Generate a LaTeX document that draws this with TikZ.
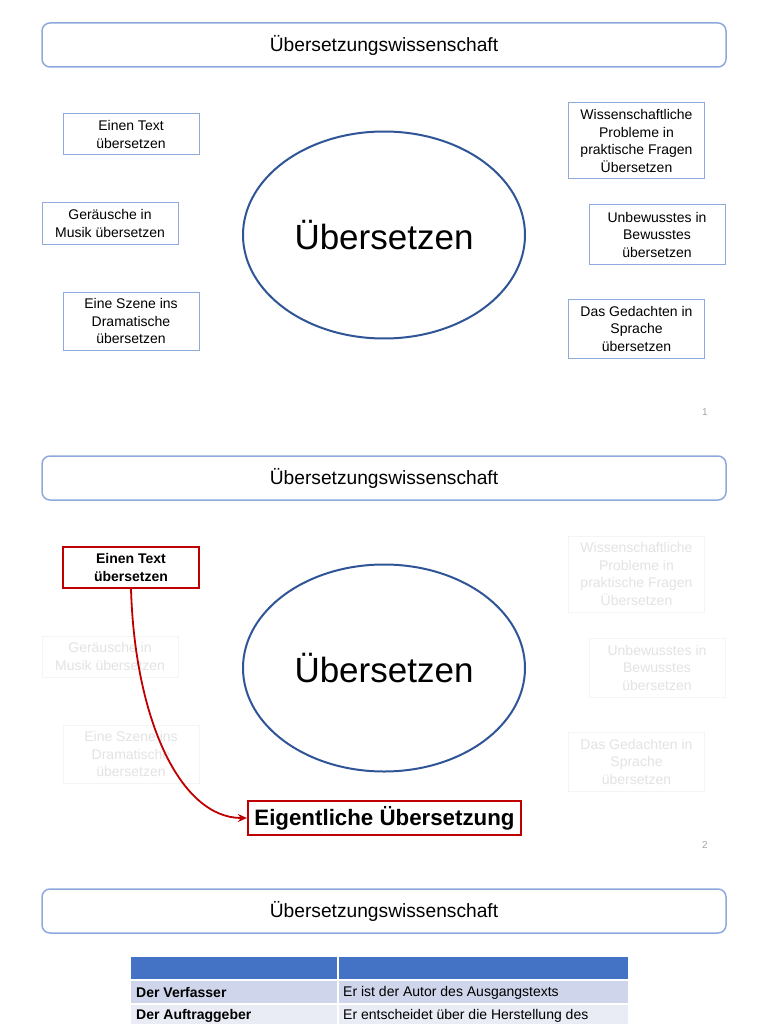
\documentclass[tikz,border=0pt]{standalone}
\usepackage{fontspec}
\setmainfont{Liberation Sans}
\usetikzlibrary{arrows.meta,shapes.geometric}
\definecolor{titleblue}{HTML}{8EA9DB}
\definecolor{boxblue}{HTML}{8FAADC}
\definecolor{ringblue}{HTML}{2F5597}
\definecolor{hotred}{HTML}{C00000}
\definecolor{headblue}{HTML}{4472C4}
\definecolor{rowone}{HTML}{CFD5EA}
\definecolor{rowtwo}{HTML}{E9EBF5}

\begin{document}
\begin{tikzpicture}[x=1pt, y=-1pt,
    titlebox/.style={draw=titleblue, line width=1.5pt, rounded corners=8pt,
        minimum width=684pt, minimum height=44pt, inner sep=0pt,
        font=\fontsize{19.2}{21}\selectfont},
    ideabox/.style={draw=boxblue, line width=1pt, align=center, inner sep=0pt,
        minimum width=136pt, font=\fontsize{14}{17.5}\selectfont},
    faded/.style={ideabox, draw=gray!9, text=gray!22},
    hotbox/.style={draw=hotred, line width=2.2pt, align=center, inner sep=0pt},
    ring/.style={ellipse, draw=ringblue, line width=2pt, minimum width=282pt,
        minimum height=207pt, font=\fontsize{35}{40}\selectfont},
    pageno/.style={text=gray!70, font=\fontsize{10}{12}\selectfont},
    cell/.style={anchor=west, inner sep=0pt, font=\fontsize{14}{16}\selectfont}]

    \useasboundingbox[fill=white] (0,0) rectangle (768,1024);

    % slide 1
    \node[titlebox] (title1) at (384,45) {Übersetzungswissenschaft};
    \node[ring] (ring1) at (384,235) {Übersetzen};
    \node[ideabox, minimum height=41pt] (text1) at (131,134.5) {Einen Text\\übersetzen};
    \node[ideabox, minimum height=41pt] (noise1) at (110,223.5) {Geräusche in\\Musik übersetzen};
    \node[ideabox, minimum height=58pt] (scene1) at (131,321) {Eine Szene ins\\Dramatische\\übersetzen};
    \node[ideabox, minimum height=76pt] (science1) at (636.5,141) {Wissenschaftliche\\Probleme in\\praktische Fragen\\Übersetzen};
    \node[ideabox, minimum height=59pt] (uncon1) at (657,234.5) {Unbewusstes in\\Bewusstes\\übersetzen};
    \node[ideabox, minimum height=59pt] (thought1) at (636.5,328.5) {Das Gedachten in\\Sprache\\übersetzen};
    \node[pageno] (num1) at (705,412) {1};

    % slide 2
    \node[titlebox] (title2) at (384,478) {Übersetzungswissenschaft};
    \node[ring] (ring2) at (384,668) {Übersetzen};
    \node[faded, minimum height=41pt] (noise2) at (110,656.5) {Geräusche in\\Musik übersetzen};
    \node[faded, minimum height=58pt] (scene2) at (131,754) {Eine Szene ins\\Dramatische\\übersetzen};
    \node[faded, minimum height=76pt] (science2) at (636.5,574) {Wissenschaftliche\\Probleme in\\praktische Fragen\\Übersetzen};
    \node[faded, minimum height=59pt] (uncon2) at (657,667.5) {Unbewusstes in\\Bewusstes\\übersetzen};
    \node[faded, minimum height=59pt] (thought2) at (636.5,761.5) {Das Gedachten in\\Sprache\\übersetzen};
    \node[hotbox, minimum width=136pt, minimum height=41pt,
        font=\bfseries\fontsize{14}{17.5}\selectfont] (text2) at (131,567.5) {Einen Text\\übersetzen};
    \node[hotbox, minimum width=273pt, minimum height=34pt,
        font=\bfseries\fontsize{22.3}{24}\selectfont] (proper) at (384.5,818) {Eigentliche Übersetzung};
    \draw[hotred, line width=1.8pt, -{Stealth[length=9pt,width=8pt]}]
        (text2.south) .. controls +(4,132) and +(-66,0) .. (proper.west);
    \node[pageno] (num2) at (705,845) {2};

    % slide 3
    \node[titlebox] (title3) at (384,911) {Übersetzungswissenschaft};
    \fill[headblue] (131,957) rectangle (628,979);
    \fill[rowone] (131,981) rectangle (628,1003);
    \fill[rowtwo] (131,1005) rectangle (628,1024);
    \draw[white, line width=1.5pt] (338,957) -- (338,1024);
    \node[cell, font=\bfseries\fontsize{14}{16}\selectfont] (authorA) at (136,992.5) {Der Verfasser};
    \node[cell] (authorB) at (343,992.5) {Er ist der Autor des Ausgangstexts};
    \node[cell, font=\bfseries\fontsize{14}{16}\selectfont] (clientA) at (136,1015.5) {Der Auftraggeber};
    \node[cell] (clientB) at (343,1015.5) {Er entscheidet über die Herstellung des};
\end{tikzpicture}
\end{document}
